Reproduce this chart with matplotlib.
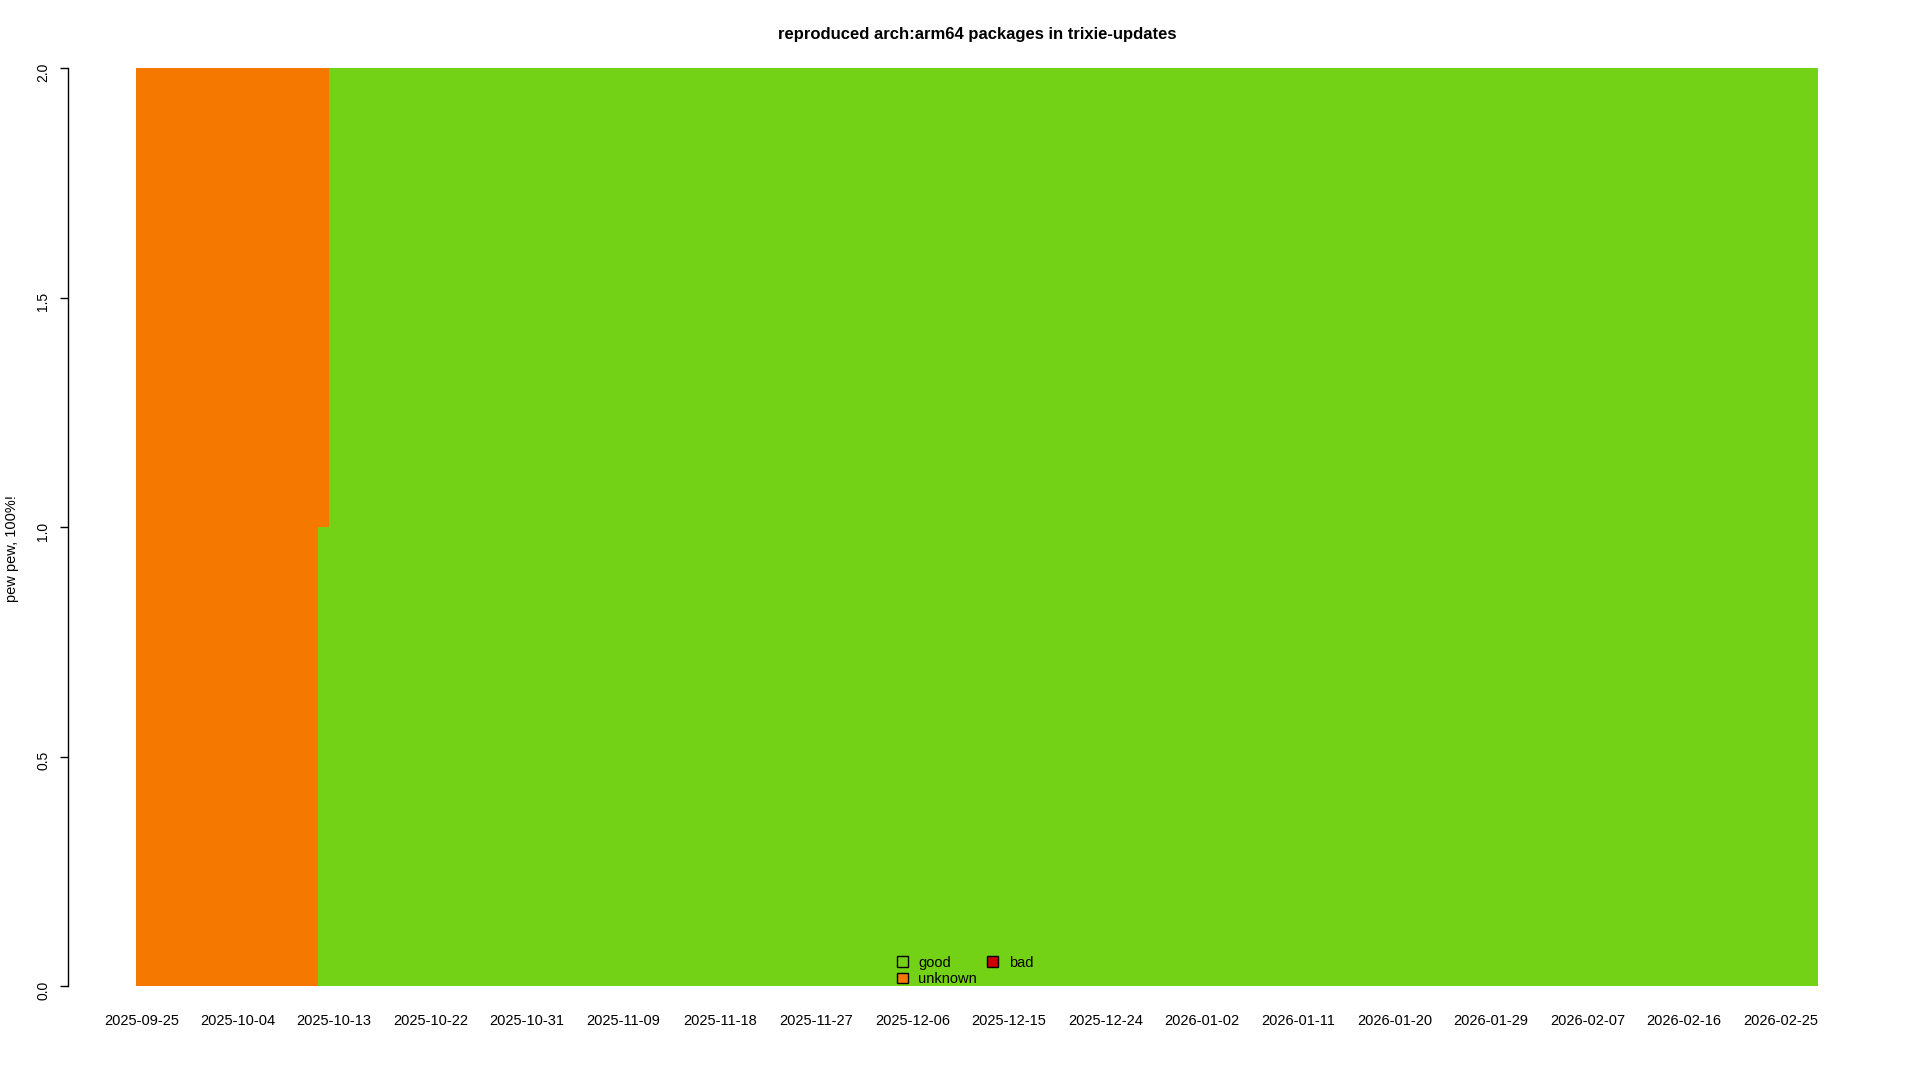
import matplotlib
matplotlib.use("Agg")
import matplotlib.pyplot as plt
import numpy as np
import datetime as dt

# daily package counts, stored as runs of identical days
start_day = dt.date(2025, 9, 25)
run_lengths = [17, 1, 139]
good_runs = [0, 1, 2]
unknown_runs = [2, 1, 0]
bad_runs = [0, 0, 0]

series_names = ["good", "unknown", "bad"]
series_colors = ["#73d216", "#f57900", "#cc0000"]
title = "reproduced arch:arm64 packages in trixie-updates"
ylabel = "pew pew, 100%!"

good = np.repeat(good_runs, run_lengths)
unknown = np.repeat(unknown_runs, run_lengths)
bad = np.repeat(bad_runs, run_lengths)
n = len(good)
days = [start_day + dt.timedelta(days=i) for i in range(n)]
x = np.arange(n)

plt.rcParams['font.family'] = ['Liberation Sans', 'DejaVu Sans']

fig = plt.figure(figsize=(19.2, 10.8), dpi=100)
ax = fig.add_axes([136/1920, 1-986/1080, (1818-136)/1920, (986-68)/1080])

bottom = np.zeros(n)
for vals, col in zip([good, unknown, bad], series_colors):
    ax.bar(x, vals, width=1.0, bottom=bottom, color=col, linewidth=0, antialiased=False)
    bottom = bottom + vals

ax.set_xlim(-0.5, n - 0.5)
ax.set_ylim(0, 2)

tick_idx = x[::9]
ax.set_xticks(tick_idx)
ax.set_xticklabels([days[i].isoformat() for i in tick_idx], fontsize=10.5)
ax.tick_params(axis='x', length=0, pad=20)

ax.set_yticks([0, 0.5, 1.0, 1.5, 2.0])
ax.set_yticklabels(["0.0", "0.5", "1.0", "1.5", "2.0"], fontsize=10.5)
ax.tick_params(axis='y', length=5.8, width=1, pad=7, labelrotation=90)
for lab in ax.get_yticklabels():
    lab.set_va('center')

for s in ['top', 'right', 'bottom']:
    ax.spines[s].set_visible(False)
ax.spines['left'].set_position(('outward', 68*0.72))
ax.spines['left'].set_linewidth(1)

fig.text(12/1920, 1-549/1080, ylabel, rotation=90, ha='center', va='center', fontsize=10.5)
fig.text(977/1920, 1-34/1080, title, ha='center', va='center', fontsize=12, fontweight='bold')

# legend drawn the R way: boxes in two columns
handles = [plt.Rectangle((0, 0), 1, 1, facecolor=c, edgecolor='black', linewidth=1) for c in series_colors]
handles[0].set_facecolor('none')
leg = ax.legend(handles, series_names, ncol=2,
                loc='lower center', bbox_to_anchor=(0.493, -0.008), frameon=False,
                fontsize=10.5, handlelength=0.75, handleheight=0.75, handletextpad=0.73,
                columnspacing=0.7, labelspacing=0.15, borderaxespad=0.1)

fig.savefig("out.png", dpi=100)
